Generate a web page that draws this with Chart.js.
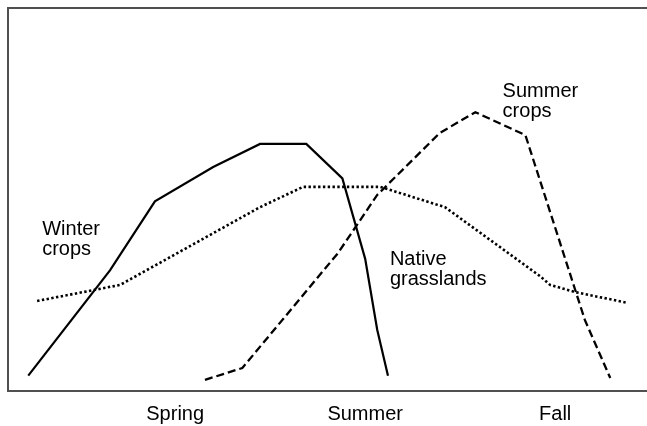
<!DOCTYPE html>
<html>
<head>
<meta charset="utf-8">
<script src="https://cdn.jsdelivr.net/npm/chart.js@4/dist/chart.umd.min.js"></script>
<style>
  html, body { margin: 0; padding: 0; background: #ffffff; }
  #wrap { width: 647px; height: 426px; position: relative; }
</style>
</head>
<body>
<div id="wrap"><canvas id="c"></canvas></div>
<script>
// x: time of year (season units, Spring=3, Summer=6, Fall=9); y: relative activity (0-100)
const winterX = [0.68, 1.97, 2.68, 3.6, 4.34, 5.07, 5.64, 6.0, 6.19, 6.36];
const winterY = [4, 31.5, 49.5, 58.5, 64.5, 64.5, 55.5, 34.5, 16, 4];

const nativeX = [0.82, 2.13, 4.34, 5.02, 6.24, 7.26, 8.76, 8.92, 9.32, 10.15];
const nativeY = [23.5, 27.7, 48, 53.3, 53.3, 48, 30, 27.7, 25.8, 23];

const summerX = [3.47, 4.06, 5.57, 6.19, 7.18, 7.74, 8.53, 9.47, 9.87];
const summerY = [2.9, 6, 36, 51.2, 67.4, 72.8, 66.8, 18.5, 3.4];

const seasonTicks = [3, 6, 9];
const seasonLabels = ['Spring', 'Summer', 'Fall'];

const labelTexts = [['Winter', 'crops'], ['Native', 'grasslands'], ['Summer', 'crops']];
const labelX = [0.9, 6.39, 8.17];
const labelY = [40.7, 32.9, 76.8];

function pts(xs, ys) { return xs.map((x, i) => ({ x: x, y: ys[i] })); }

const FONT = '"Liberation Sans", Arial, Helvetica, sans-serif';

const framePlugin = {
  id: 'frame',
  afterDraw(chart) {
    const { ctx, chartArea: a, scales } = chart;
    ctx.save();
    ctx.strokeStyle = '#505050';
    ctx.lineWidth = 2;
    ctx.beginPath();
    ctx.moveTo(a.right + 2, a.top);
    ctx.lineTo(a.left, a.top);
    ctx.lineTo(a.left, a.bottom);
    ctx.lineTo(a.right + 2, a.bottom);
    ctx.stroke();
    // annotations
    ctx.fillStyle = '#000';
    ctx.font = '20px ' + FONT;
    ctx.textBaseline = 'alphabetic';
    ctx.textAlign = 'left';
    labelTexts.forEach((lines, i) => {
      const px = scales.x.getPixelForValue(labelX[i]);
      const py = scales.y.getPixelForValue(labelY[i]);
      lines.forEach((t, j) => ctx.fillText(t, px, py + j * 20));
    });
    ctx.restore();
  }
};

new Chart(document.getElementById('c'), {
  type: 'line',
  data: {
    datasets: [
      { label: 'Winter crops', data: pts(winterX, winterY), borderColor: '#000', borderWidth: 2.2, borderDash: [] },
      { label: 'Native grasslands', data: pts(nativeX, nativeY), borderColor: '#000', borderWidth: 2.6, borderDash: [2.4, 2.4] },
      { label: 'Summer crops', data: pts(summerX, summerY), borderColor: '#000', borderWidth: 2.3, borderDash: [8, 4] }
    ]
  },
  options: {
    responsive: true,
    maintainAspectRatio: false,
    animation: false,
    devicePixelRatio: 1,
    layout: { padding: { left: 8, top: 8, right: 0, bottom: -11 } },
    elements: { point: { radius: 0 }, line: { tension: 0, borderCapStyle: 'butt', borderJoinStyle: 'miter' } },
    plugins: { legend: { display: false }, tooltip: { enabled: false } },
    scales: {
      x: {
        type: 'linear',
        min: 0.36,
        max: 10.45,
        grid: { display: false, drawTicks: false },
        border: { display: false },
        afterBuildTicks(s) { s.ticks = seasonTicks.map(v => ({ value: v })); },
        ticks: {
          color: '#000',
          font: { family: FONT, size: 20 },
          padding: 11,
          maxRotation: 0,
          autoSkip: false,
          callback(v) { const i = seasonTicks.indexOf(v); return i >= 0 ? seasonLabels[i] : ''; }
        }
      },
      y: {
        type: 'linear',
        min: 0,
        max: 100,
        display: false
      }
    }
  },
  plugins: [framePlugin]
});
</script>
</body>
</html>
